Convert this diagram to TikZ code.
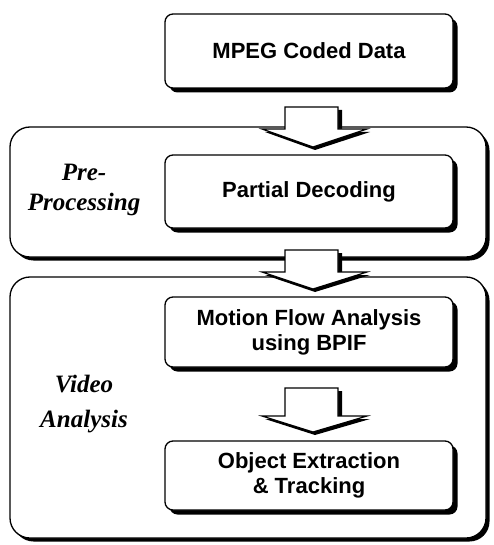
\documentclass[tikz,border=0pt]{standalone}
\usepackage{fontspec}
\setmainfont{Liberation Sans}
\newfontfamily\labfont{Liberation Serif}
\usetikzlibrary{shadows}
\newcommand\blkarr[3]{%
  \fill[black] (288,#1+3) -- (342,#1+3) -- (342,#2+3) -- (370,#2+3) -- (315,#3+3) -- (265,#2+3) -- (288,#2+3) -- cycle;
  \draw[line width=1.2pt, fill=white, line join=miter] (285,#1) -- (338,#1) -- (338,#2) -- (367,#2) -- (313,#3) -- (262,#2) -- (285,#2) -- cycle;
}
\begin{document}
\begin{tikzpicture}[x=1pt,y=-1pt,
  outerbox/.style={draw=black, line width=1.3pt, fill=white, rounded corners=20pt,
     minimum width=476pt, inner sep=0pt,
     general shadow={fill=black, shadow xshift=3.5pt, shadow yshift=-3.5pt}},
  stepbox/.style={draw=black, line width=1.3pt, fill=white, rounded corners=8pt,
     minimum width=288pt, inner sep=0pt, align=center,
     font=\bfseries\fontsize{22}{25}\selectfont,
     general shadow={fill=black, shadow xshift=4.5pt, shadow yshift=-4.5pt}},
  lab/.style={align=center, font=\labfont\bfseries\itshape\fontsize{25}{30}\selectfont}
]
\useasboundingbox (0,0) rectangle (494,545);
% outer groups
\node[outerbox, minimum height=130pt] (pre) at (248,192) {};
\node[outerbox, minimum height=261pt] (va) at (248,407.5) {};
% process boxes
\node[stepbox, minimum height=74pt] (mpeg) at (309,51) {MPEG Coded Data};
\node[stepbox, minimum height=73pt] (pd) at (309,191.5) {Partial Decoding};
\node[stepbox, minimum height=70pt] (mfa) at (309,332) {Motion Flow Analysis\\using BPIF};
\node[stepbox, minimum height=69pt] (oet) at (309,475.5) {Object Extraction\\\& Tracking};
% labels
\node[lab] (prelab) at (84,190) {Pre-\\Processing};
\node[lab, font=\labfont\bfseries\itshape\fontsize{25}{35}\selectfont] (valab) at (84,404) {Video\\Analysis};
% block arrows
\blkarr{107}{129}{147}
\blkarr{250}{272}{289}
\blkarr{388}{416}{432}
\end{tikzpicture}
\end{document}
